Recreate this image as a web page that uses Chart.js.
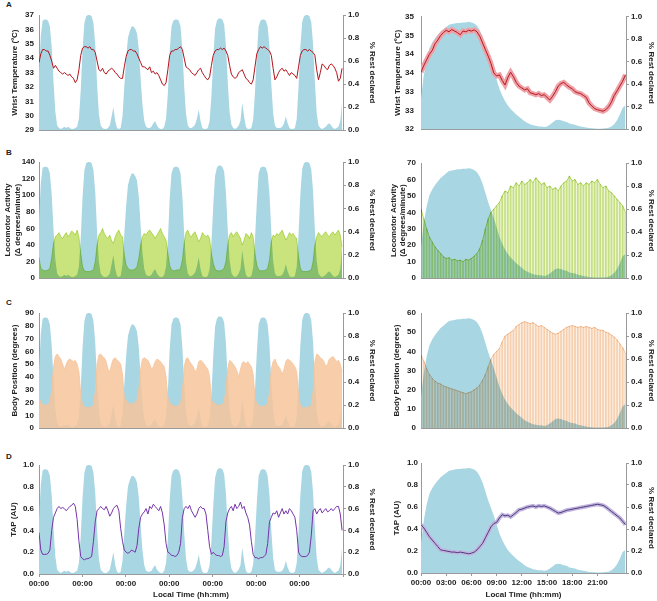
<!DOCTYPE html>
<html>
<head>
<meta charset="utf-8">
<script src="https://cdn.jsdelivr.net/npm/chart.js@4.4.1/dist/chart.umd.min.js"></script>
<style>
  body { margin: 0; background: #fff; width: 657px; height: 601px; position: relative; overflow: hidden;
         font-family: "Liberation Sans", Arial, sans-serif; }
  canvas { position: absolute; }
  .lbl { position: absolute; font-size: 8px; line-height: 10px; font-weight: bold; color: #222; }
</style>
</head>
<body>
<div class="lbl" style="left:6px;top:0px">A</div>
<div class="lbl" style="left:6px;top:148px">B</div>
<div class="lbl" style="left:6px;top:298px">C</div>
<div class="lbl" style="left:6px;top:452px">D</div>

<canvas id="leftA" width="388" height="135" style="left:0;top:5px"></canvas>
<canvas id="leftB" width="388" height="135" style="left:0;top:152px"></canvas>
<canvas id="leftC" width="388" height="135" style="left:0;top:303px"></canvas>
<canvas id="leftD" width="388" height="146" style="left:0;top:455px"></canvas>
<canvas id="rightA" width="269" height="136" style="left:388px;top:5px"></canvas>
<canvas id="rightB" width="269" height="135" style="left:388px;top:153px"></canvas>
<canvas id="rightC" width="269" height="135" style="left:388px;top:303px"></canvas>
<canvas id="rightD" width="269" height="148" style="left:388px;top:453px"></canvas>

<script>
// ---- week recording, hourly (7 days) ----
var restWeek = [
  0.50,0.82,0.95,0.96,0.96,0.95,0.90,0.72,0.42,0.16,0.04,0.02,0.01,0.02,0.03,0.02,0.03,0.02,0.01,0.01,0.02,0.03,0.10,0.35,
  0.70,0.93,0.99,1.00,1.00,0.99,0.93,0.74,0.40,0.14,0.04,0.02,0.01,0.01,0.02,0.04,0.12,0.20,0.08,0.02,0.01,0.02,0.12,0.38,
  0.62,0.80,0.86,0.90,0.90,0.88,0.84,0.70,0.45,0.22,0.08,0.03,0.02,0.02,0.03,0.06,0.08,0.04,0.02,0.01,0.01,0.03,0.10,0.32,
  0.68,0.90,0.95,0.96,0.96,0.95,0.90,0.70,0.38,0.14,0.04,0.02,0.02,0.03,0.05,0.10,0.18,0.08,0.02,0.01,0.01,0.02,0.08,0.30,
  0.62,0.88,0.95,0.97,0.97,0.96,0.92,0.74,0.42,0.16,0.05,0.02,0.01,0.02,0.04,0.08,0.24,0.12,0.03,0.01,0.01,0.02,0.09,0.33,
  0.65,0.90,0.95,0.96,0.96,0.95,0.90,0.72,0.40,0.15,0.04,0.02,0.02,0.02,0.03,0.06,0.12,0.06,0.02,0.01,0.01,0.02,0.10,0.38,
  0.72,0.94,0.99,1.00,1.00,0.99,0.94,0.75,0.42,0.15,0.04,0.02,0.01,0.02,0.03,0.05,0.06,0.04,0.02,0.01,0.02,0.03,0.08,0.25
];
var tempWeek = [
  33.7,34.3,34.6,34.6,34.5,34.5,34.2,33.8,33.3,33.5,33.3,33.1,33.0,32.9,33.0,32.9,32.8,32.9,32.7,32.6,32.3,32.5,33.2,34.2,
  34.7,34.8,34.8,34.7,34.8,34.6,34.6,34.4,33.8,33.2,33.1,33.3,33.0,32.9,33.1,33.2,33.3,33.2,33.0,32.9,32.7,32.6,32.6,33.4,
  34.1,34.5,34.6,34.6,34.5,34.5,34.3,34.0,33.7,33.4,33.4,33.3,33.2,33.4,33.0,33.1,32.9,33.0,32.8,32.5,32.2,32.1,32.3,33.2,
  34.2,34.5,34.5,34.6,34.6,34.7,34.8,34.6,34.0,33.4,33.3,33.2,33.0,32.9,32.8,33.0,33.2,33.3,33.0,32.8,32.6,32.5,32.7,33.5,
  34.2,34.5,34.6,34.6,34.7,34.6,34.7,34.5,34.2,33.5,32.9,32.7,32.6,32.7,33.0,33.1,33.2,32.9,32.6,32.5,32.3,32.2,32.5,33.4,
  34.3,34.6,34.8,34.7,34.8,34.7,34.6,34.5,34.2,33.3,32.5,32.7,33.0,33.2,33.3,33.1,33.2,33.0,32.8,33.0,32.9,32.8,32.6,33.4,
  34.2,34.5,34.6,34.6,34.5,34.6,34.5,34.4,34.2,33.2,32.5,33.0,33.6,33.5,33.3,33.2,33.5,33.6,33.5,33.3,33.0,32.4,32.6,33.3
];
var activityWeek = [
  25,12,10,9,9,10,12,25,42,50,52,55,50,48,52,55,50,53,57,55,52,58,50,30,
  14,9,8,8,8,9,10,20,40,52,55,60,54,50,48,52,45,42,50,55,58,52,50,28,
  16,12,10,10,10,11,14,24,40,50,54,52,56,58,55,52,48,52,56,60,54,50,46,30,
  15,10,9,9,10,10,12,22,42,55,58,52,50,54,56,50,44,48,55,52,50,52,48,30,
  18,11,9,9,9,10,12,20,40,52,55,50,54,56,52,48,40,46,54,52,48,55,50,30,
  16,10,9,9,9,10,12,22,44,52,50,54,52,55,58,52,46,50,55,52,54,50,48,26,
  12,8,8,8,8,9,10,20,40,50,55,52,50,54,56,52,50,54,56,52,55,58,52,38
];
var positionWeek = [
  24,20,19,18,18,19,20,30,48,56,58,56,54,50,46,50,53,54,53,52,53,50,44,26,
  18,17,16,16,16,17,18,28,50,57,58,56,55,52,46,44,50,54,55,53,52,50,42,24,
  22,20,19,19,19,20,22,30,46,54,55,54,53,50,46,48,52,54,53,52,50,48,40,24,
  20,18,18,17,17,18,20,28,48,54,55,52,50,48,44,46,52,53,52,50,48,46,40,22,
  20,19,18,18,18,19,20,30,46,53,52,50,48,45,40,46,51,52,50,52,50,48,42,24,
  19,18,17,17,17,18,19,28,46,52,54,50,48,46,42,46,52,54,53,52,50,48,44,26,
  18,16,16,16,16,17,18,28,52,58,57,55,54,52,48,50,54,55,56,54,52,53,50,44
];
var tapWeek = [
  0.38,0.22,0.18,0.18,0.18,0.19,0.22,0.40,0.52,0.56,0.60,0.62,0.60,0.61,0.60,0.58,0.60,0.62,0.63,0.65,0.62,0.50,0.30,0.16,
  0.14,0.13,0.14,0.14,0.15,0.16,0.30,0.48,0.58,0.60,0.62,0.60,0.59,0.62,0.58,0.53,0.56,0.60,0.62,0.63,0.58,0.42,0.30,0.22,
  0.20,0.19,0.20,0.22,0.21,0.20,0.26,0.42,0.52,0.55,0.57,0.60,0.55,0.62,0.60,0.64,0.62,0.60,0.58,0.62,0.56,0.45,0.28,0.20,
  0.19,0.17,0.17,0.16,0.17,0.20,0.28,0.52,0.60,0.62,0.60,0.63,0.58,0.55,0.52,0.55,0.60,0.62,0.60,0.60,0.55,0.40,0.25,0.18,
  0.20,0.18,0.17,0.17,0.16,0.17,0.25,0.48,0.56,0.60,0.62,0.58,0.64,0.60,0.62,0.66,0.60,0.62,0.56,0.52,0.45,0.30,0.18,0.15,
  0.15,0.14,0.15,0.15,0.16,0.18,0.28,0.48,0.52,0.56,0.55,0.58,0.52,0.56,0.60,0.55,0.58,0.55,0.60,0.58,0.55,0.52,0.40,0.20,
  0.17,0.16,0.16,0.16,0.17,0.20,0.35,0.58,0.60,0.55,0.58,0.60,0.56,0.58,0.60,0.57,0.58,0.60,0.58,0.60,0.62,0.62,0.55,0.40
];

// ---- 24 h average, 20 min bins ----
var restDay = [
  0.27,0.48,0.62,0.72,0.77,0.81,0.84,0.87,0.89,0.91,0.93,0.935,
  0.94,0.945,0.945,0.95,0.95,0.955,0.95,0.94,0.92,0.88,0.82,0.74,
  0.66,0.59,0.52,0.44,0.36,0.30,0.25,0.21,0.18,0.155,0.13,0.11,
  0.09,0.07,0.055,0.045,0.035,0.03,0.025,0.025,0.02,0.025,0.04,0.06,
  0.08,0.085,0.08,0.07,0.065,0.05,0.045,0.04,0.03,0.025,0.02,0.015,
  0.01,0.008,0.006,0.005,0.005,0.006,0.008,0.012,0.025,0.045,0.08,0.13,
  0.19,0.21
];
var tempDay = [
  33.52,33.70,33.85,34.00,34.10,34.28,34.38,34.50,34.58,34.64,34.60,34.66,
  34.62,34.58,34.52,34.62,34.60,34.64,34.62,34.65,34.60,34.48,34.30,34.12,
  33.95,33.75,33.50,33.42,33.45,33.30,33.18,33.38,33.52,33.40,33.25,33.15,
  33.10,33.05,33.08,32.97,32.95,32.92,32.95,32.90,32.92,32.85,32.78,32.88,
  33.00,33.15,33.22,33.25,33.18,33.12,33.08,33.00,32.97,32.95,32.90,32.85,
  32.70,32.62,32.55,32.52,32.50,32.48,32.52,32.60,32.72,32.90,33.02,33.15,
  33.28,33.45
];
var activityDay = [
  42,36,30,25,22,19,17,15,13,12,12.5,11,
  11.5,10.5,11,10,11.5,11,12,13.5,15,18,23,30,
  36,40,42,44,46,50,53,52,56,55,58,56,
  59,57,58,60,58,61,59,57,58,55,56,54,
  55,53,56,58,59,62,59,60,57,58,56,58,
  57,59,58,60,57,55,56,53,52,50,48,46,
  44,40
];
var positionDay = [
  38,35,31,28,26,24.5,23.5,23,22,21.5,21,20.5,
  20,19.5,19,18.5,18,18.5,19,20,21,22.5,25,28,
  32,36,38.5,40,41.5,45,48,49,50,51,53,54,
  55,55.5,55,54.5,55,54,53,53.5,52.5,51.5,50.5,49.5,
  49,49.5,50.5,51.5,52.5,53,53.5,53,52.5,53,52.5,53,
  52.5,52,52.5,51.5,51,51,50,49.5,48.5,47.5,46,44,
  42,39
];
var tapDay = [
  0.44,0.41,0.37,0.33,0.30,0.27,0.24,0.21,0.205,0.20,0.195,0.19,
  0.19,0.185,0.19,0.185,0.18,0.175,0.18,0.19,0.21,0.24,0.27,0.32,
  0.37,0.42,0.45,0.46,0.50,0.53,0.52,0.525,0.51,0.53,0.55,0.575,
  0.58,0.59,0.60,0.605,0.61,0.60,0.61,0.605,0.61,0.60,0.59,0.575,
  0.56,0.545,0.55,0.56,0.57,0.575,0.58,0.585,0.59,0.595,0.60,0.605,
  0.61,0.615,0.62,0.625,0.62,0.615,0.60,0.58,0.56,0.54,0.52,0.50,
  0.47,0.44
];

var weekHours = restWeek.map(function (v, i) { return i; });
var dayBins = restDay.map(function (v, i) { return i / 3; });

var REST_BLUE = "#a9d6e3";
var AXIS_GREY = "#9a9a9a";
var NONE = "rgba(0,0,0,0)";

Chart.defaults.font.family = "'Liberation Sans', Arial, sans-serif";
Chart.defaults.font.size = 8;
Chart.defaults.font.weight = "bold";
Chart.defaults.color = "#222";

// multiply blending for some datasets; registered before the filler so fills get it too
var blendPlugin = {
    id: "blend",
    beforeDatasetDraw: function (chart, args) {
        var ds = chart.data.datasets[args.index];
        if (ds.blend) {
            chart.ctx.save();
            chart.ctx.globalCompositeOperation = ds.blend;
        }
    },
    afterDatasetDraw: function (chart, args) {
        var ds = chart.data.datasets[args.index];
        if (ds.blend) chart.ctx.restore();
    }
};
var fillerPlugin = Chart.registry.getPlugin("filler");
Chart.unregister(fillerPlugin);
Chart.register(blendPlugin, fillerPlugin);

function pts(xs, ys) {
    return ys.map(function (v, i) { return { x: xs[i], y: v }; });
}

function leftAxis(min, max, step, title, width, titlePad, tickPad, fmt) {
    return {
        position: "left", min: min, max: max,
        ticks: { stepSize: step, padding: tickPad, callback: fmt || function (v) { return v; } },
        grid: { display: false, drawTicks: false },
        border: { color: AXIS_GREY },
        title: { display: true, text: title, padding: { top: titlePad, bottom: 0 } },
        afterFit: function (s) { s.width = width; }
    };
}

function restAxis(width, titlePad) {
    return {
        position: "right", min: 0, max: 1,
        ticks: { stepSize: 0.1, padding: 2, callback: function (v) { return v.toFixed(1); } },
        grid: { display: true, drawOnChartArea: false, tickLength: 3, color: AXIS_GREY },
        border: { color: AXIS_GREY },
        title: { display: true, text: "% Rest declared", padding: { top: titlePad, bottom: 0 } },
        afterFit: function (s) { s.width = width; }
    };
}

function weekAxis(showLabels) {
    return {
        type: "linear", min: 0, max: 167.5, offset: false,
        ticks: {
            display: showLabels, stepSize: 24, autoSkip: false, maxRotation: 0, padding: 2,
            callback: function (v) { return v <= 144 ? "00:00" : ""; }
        },
        grid: { display: showLabels, drawOnChartArea: false, tickLength: 3, color: AXIS_GREY },
        border: { color: AXIS_GREY },
        title: { display: showLabels, text: "Local Time (hh:mm)", padding: { top: 0, bottom: 1 } },
        afterFit: function (s) { s.height = showLabels ? 27 : 4; }
    };
}

function dayAxis(showLabels) {
    return {
        type: "linear", min: 0, max: 24.4, offset: false,
        ticks: {
            display: showLabels, stepSize: 3, autoSkip: false, maxRotation: 0, padding: 2,
            callback: function (v) { return v <= 21 ? String(v).padStart(2, "0") + ":00" : ""; }
        },
        afterBuildTicks: function (s) {
            s.ticks = s.ticks.filter(function (t) { return t.value % 3 === 0 && t.value <= 24; });
        },
        grid: { display: showLabels, drawOnChartArea: false, tickLength: 3, color: AXIS_GREY },
        border: { color: AXIS_GREY },
        title: { display: showLabels, text: "Local Time (hh:mm)", padding: { top: 0, bottom: 1 } },
        afterFit: function (s) { s.height = showLabels ? 28 : 4; }
    };
}

function restSet(xs, ys, order) {
    return {
        type: "line", data: pts(xs, ys), yAxisID: "y1", fill: "origin",
        backgroundColor: REST_BLUE, borderColor: NONE, borderWidth: 1, order: order
    };
}

function makeChart(id, datasets, xScale, yScale, y1Scale) {
    var canvas = document.getElementById(id);
    if (!canvas) {
        console.error("canvas " + id + " missing");
        return;
    }
    new Chart(canvas.getContext("2d"), {
        type: "line",
        data: { datasets: datasets },
        options: {
            responsive: false,
            animation: false,
            events: [],
            layout: { padding: { top: 10, left: 0, right: 0, bottom: 0 } },
            elements: { point: { radius: 0 }, line: { tension: 0 } },
            plugins: { legend: { display: false }, tooltip: { enabled: false } },
            scales: { x: xScale, y: yScale, y1: y1Scale }
        }
    });
}

var oneDecimal = function (v) { return v.toFixed(1); };

// ---- left column: whole week ----
makeChart("leftA", [
    { type: "line", data: pts(weekHours, tempWeek), yAxisID: "y", borderColor: "#b3131c", borderWidth: 1, order: 0 },
    restSet(weekHours, restWeek, 1)
], weekAxis(false), leftAxis(29, 37, 1, "Wrist Temperature (ºC)", 39, 10, 5), restAxis(45, 11));

makeChart("leftB", [
    { type: "line", data: pts(weekHours, activityWeek), yAxisID: "y", fill: "origin",
      backgroundColor: "#c9e47c", borderColor: "#c9e47c", borderWidth: 1, blend: "multiply", order: 0 },
    restSet(weekHours, restWeek, 1)
], weekAxis(false), leftAxis(0, 140, 20, ["Locomotor Activity", "(Δ degrees/minute)"], 39, 3, 4), restAxis(45, 11));

makeChart("leftC", [
    { type: "line", data: pts(weekHours, positionWeek), yAxisID: "y", fill: "origin",
      backgroundColor: "rgba(246,196,155,0.85)", borderColor: "rgba(246,196,155,0.85)", borderWidth: 1, order: 0 },
    restSet(weekHours, restWeek, 1)
], weekAxis(false), leftAxis(0, 90, 10, "Body Position (degrees)", 39, 10, 5), restAxis(45, 11));

makeChart("leftD", [
    { type: "line", data: pts(weekHours, tapWeek), yAxisID: "y", borderColor: "#7634a8", borderWidth: 1, order: 0 },
    restSet(weekHours, restWeek, 1)
], weekAxis(true), leftAxis(0, 1, 0.1, "TAP (AU)", 39, 8.5, 5, oneDecimal), restAxis(45, 11));

// ---- right column: 24 h average ----
makeChart("rightA", [
    { type: "line", data: pts(dayBins, tempDay), yAxisID: "y", borderColor: "#b01c22", borderWidth: 1, order: 0 },
    { type: "line", data: pts(dayBins, tempDay), yAxisID: "y", borderColor: "#efa0a6", borderWidth: 5, order: 1 },
    restSet(dayBins, restDay, 2)
], dayAxis(false), leftAxis(32, 35, 0.5, "Wrist Temperature (ºC)", 33, 5, 7,
    function (v) { return Math.round(v); }), restAxis(31, 1));

makeChart("rightB", [
    { type: "line", data: pts(dayBins, activityDay), yAxisID: "y", borderColor: "#b8da68", borderWidth: 1,
      blend: "multiply", order: 0 },
    { type: "bar", data: pts(dayBins, activityDay), yAxisID: "y", backgroundColor: "#d3e89c", barThickness: 1,
      blend: "multiply", order: 1 },
    { type: "line", data: pts(dayBins, activityDay), yAxisID: "y", fill: "origin", backgroundColor: "#eef6d5",
      borderColor: NONE, borderWidth: 1, blend: "multiply", order: 2 },
    restSet(dayBins, restDay, 3)
], dayAxis(false), leftAxis(0, 70, 10, ["Locomotor Activity", "(Δ degrees/minute)"], 33, 0.5, 5), restAxis(31, 1));

makeChart("rightC", [
    { type: "line", data: pts(dayBins, positionDay), yAxisID: "y", borderColor: "#f5caa5", borderWidth: 1,
      blend: "multiply", order: 0 },
    { type: "bar", data: pts(dayBins, positionDay), yAxisID: "y", backgroundColor: "#f8dcc4", barThickness: 1,
      blend: "multiply", order: 1 },
    { type: "line", data: pts(dayBins, positionDay), yAxisID: "y", fill: "origin", backgroundColor: "#fdf0e4",
      borderColor: NONE, borderWidth: 1, blend: "multiply", order: 2 },
    restSet(dayBins, restDay, 3)
], dayAxis(false), leftAxis(0, 60, 10, "Body Position (degrees)", 33, 4, 5), restAxis(31, 1));

makeChart("rightD", [
    { type: "line", data: pts(dayBins, tapDay), yAxisID: "y", borderColor: "#4b3b7c", borderWidth: 1, order: 0 },
    { type: "line", data: pts(dayBins, tapDay), yAxisID: "y", borderColor: "#c2b4df", borderWidth: 4, order: 1 },
    restSet(dayBins, restDay, 2)
], dayAxis(true), leftAxis(0, 1, 0.1, "TAP (AU)", 33, 4, 3, oneDecimal), restAxis(31, 1));
</script>
</body>
</html>
